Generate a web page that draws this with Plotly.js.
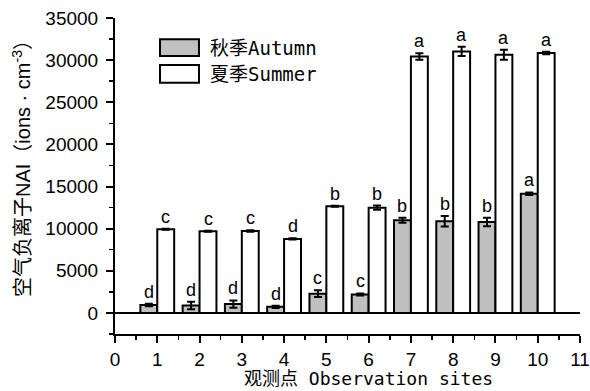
<!DOCTYPE html>
<html>
<head>
<meta charset="utf-8">
<script src="https://cdn.plot.ly/plotly-3.0.1.min.js"></script>
<style>html,body{margin:0;padding:0;background:#fff;}#chart{width:590px;height:391px;}</style>
</head>
<body>
<div id="chart"></div>
<script>
// ---- data ----
const sites = [1, 2, 3, 4, 5, 6, 7, 8, 9, 10];
const autumn = [950, 880, 1050, 720, 2280, 2200, 10990, 10870, 10800, 14150];
const autumnErr = [150, 450, 430, 130, 400, 120, 300, 620, 500, 150];
const summer = [9930, 9680, 9720, 8780, 12650, 12490, 30440, 31030, 30640, 30840];
const summerErr = [60, 60, 80, 80, 60, 250, 380, 550, 600, 150];
const autumnLetters = ['d', 'd', 'd', 'd', 'c', 'c', 'b', 'b', 'b', 'a'];
const summerLetters = ['c', 'c', 'c', 'd', 'b', 'b', 'a', 'a', 'a', 'a'];
const seriesNames = ['秋季Autumn', '夏季Summer'];
const xTitle = '观测点 Observation sites';
const yTitle = '空气负离子NAI（ions · cm<sup>-3</sup>）';

const barLine = {color: '#000', width: 2};
const errStyle = (arr) => ({type: 'data', array: arr, visible: true, color: '#000', thickness: 2, width: 4});

const traces = [
  {type: 'bar', name: seriesNames[0], x: sites, y: autumn, error_y: errStyle(autumnErr),
   marker: {color: '#c0c0c0', line: barLine}, showlegend: false},
  {type: 'bar', name: seriesNames[1], x: sites, y: summer, error_y: errStyle(summerErr),
   marker: {color: '#ffffff', line: barLine}, showlegend: false}
];

const letterFont = {family: 'Liberation Sans, Arial, sans-serif', size: 18, color: '#000000'};
const annotations = [];
sites.forEach((s, i) => {
  annotations.push({x: s - 0.2, y: autumn[i] + autumnErr[i], xref: 'x', yref: 'y', text: autumnLetters[i],
    showarrow: false, yanchor: 'bottom', yshift: 0, font: letterFont});
  annotations.push({x: s + 0.2, y: summer[i] + summerErr[i], xref: 'x', yref: 'y', text: summerLetters[i],
    showarrow: false, yanchor: 'bottom', yshift: 0, font: letterFont});
});

const cjkMono = 'DejaVu Sans Mono, Noto Sans CJK SC, monospace';
// legend labels
annotations.push({xref: 'paper', yref: 'paper', x: 0.2, y: 0.906, xanchor: 'left', yanchor: 'middle',
  text: seriesNames[0], showarrow: false, font: {family: cjkMono, size: 19, color: '#000000'}});
annotations.push({xref: 'paper', yref: 'paper', x: 0.2, y: 0.823, xanchor: 'left', yanchor: 'middle',
  text: seriesNames[1], showarrow: false, font: {family: cjkMono, size: 19, color: '#000000'}});
// axis titles
annotations.push({xref: 'paper', yref: 'paper', x: 0.546, y: -0.142, xanchor: 'center', yanchor: 'middle',
  text: xTitle, showarrow: false, font: {family: cjkMono, size: 18, color: '#000000'}});
annotations.push({xref: 'paper', yref: 'paper', x: -0.2, y: 0.538, xanchor: 'center', yanchor: 'middle',
  text: yTitle, textangle: -90, showarrow: false,
  font: {family: 'Liberation Sans, Noto Sans CJK SC, sans-serif', size: 20, color: '#000000'}});

const shapes = [
  {type: 'rect', xref: 'paper', yref: 'paper', x0: 0.0968, x1: 0.1806, y0: 0.880, y1: 0.933,
   fillcolor: '#c0c0c0', line: {color: '#000', width: 2}},
  {type: 'rect', xref: 'paper', yref: 'paper', x0: 0.0968, x1: 0.1806, y0: 0.795, y1: 0.851,
   fillcolor: '#ffffff', line: {color: '#000', width: 2}}
];

const layout = {
  width: 590, height: 391,
  margin: {l: 115, r: 10, t: 18, b: 57},
  paper_bgcolor: '#fff', plot_bgcolor: '#fff',
  font: {family: 'Liberation Sans, Arial, sans-serif', size: 18, color: '#000000'},
  barmode: 'group', bargap: 0.2, bargroupgap: 0,
  showlegend: false,
  xaxis: {range: [0, 11], dtick: 1, tick0: 0, showgrid: false, zeroline: false,
    showline: true, linecolor: '#000', linewidth: 2,
    ticks: 'outside', ticklen: 7, tickwidth: 2, tickcolor: '#000',
    minor: {dtick: 0.5, ticks: 'outside', ticklen: 4, tickwidth: 1.5, tickcolor: '#000'},
    tickfont: {size: 19, color: '#000000'}},
  yaxis: {range: [-2500, 35000], dtick: 5000, tick0: 0, tickformat: 'd', showgrid: false,
    zeroline: true, zerolinecolor: '#000', zerolinewidth: 2,
    showline: true, linecolor: '#000', linewidth: 2,
    ticks: 'outside', ticklen: 7, tickwidth: 2, tickcolor: '#000', ticklabelstandoff: 4,
    minor: {dtick: 2500, ticks: 'outside', ticklen: 4, tickwidth: 1.5, tickcolor: '#000'},
    tickfont: {size: 19, color: '#000000'}},
  annotations: annotations,
  shapes: shapes
};

Plotly.newPlot('chart', traces, layout, {displayModeBar: false, staticPlot: true});
</script>
</body>
</html>
